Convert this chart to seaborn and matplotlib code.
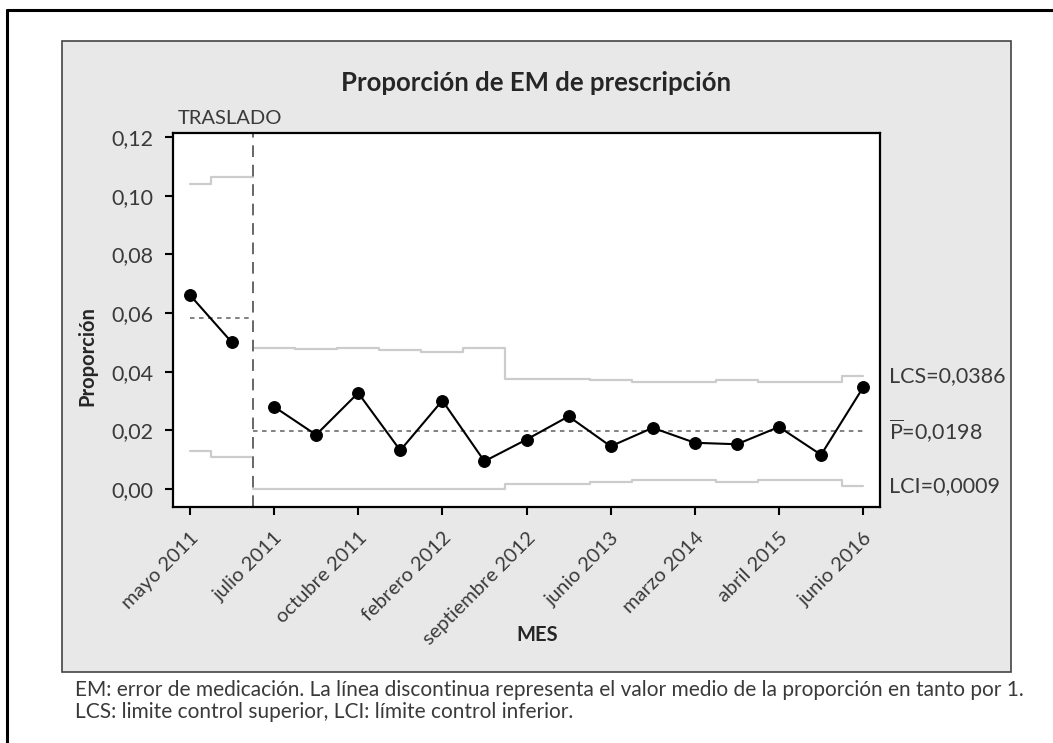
import matplotlib
matplotlib.use("Agg")
import matplotlib.pyplot as plt
from matplotlib.patches import Rectangle
from matplotlib.lines import Line2D
import numpy as np
import pandas as pd
import seaborn as sns

# proporción mensual de errores de medicación
proporcion = [0.0662, 0.0500, 0.0281, 0.0185, 0.0328, 0.0132, 0.0302, 0.0095, 0.0169,
              0.0248, 0.0146, 0.0209, 0.0158, 0.0153, 0.0212, 0.0117, 0.0347]
fase = [1, 1] + [2] * 15
lcs = [0.1039, 0.1063, 0.0480, 0.0476, 0.0480, 0.0473, 0.0467, 0.0480, 0.0377,
       0.0377, 0.0372, 0.0365, 0.0365, 0.0372, 0.0365, 0.0365, 0.0386]
lci = [0.0129, 0.0110, 0.0, 0.0, 0.0, 0.0, 0.0, 0.0, 0.0017,
       0.0017, 0.0024, 0.0031, 0.0031, 0.0024, 0.0031, 0.0031, 0.0009]
media = {1: 0.0584, 2: 0.0198}
etiquetas_mes = ["mayo 2011", "julio 2011", "octubre 2011", "febrero 2012", "septiembre 2012",
                 "junio 2013", "marzo 2014", "abril 2015", "junio 2016"]
textos_lim = ["LCS=0,0386", r"$\overline{\mathrm{P}}$=0,0198", "LCI=0,0009"]
valores_lim = [0.0386, 0.0198, 0.0009]

df = pd.DataFrame({"obs": np.arange(len(proporcion)), "p": proporcion, "fase": fase,
                   "lcs": lcs, "lci": lci})

sns.set_style("ticks")
plt.rcParams["font.family"] = ["Lato", "DejaVu Sans"]
plt.rcParams["mathtext.fontset"] = "custom"
plt.rcParams["mathtext.rm"] = "Lato"

gris_txt = "#3a3a3a"

fig = plt.figure(figsize=(10.53, 7.43), dpi=100)

# marco exterior y panel gris
fig.add_artist(Line2D([0.0067, 0.0067], [0, 0.9865], color="black", lw=2.2, transform=fig.transFigure))
fig.add_artist(Line2D([0.0067, 1.0], [0.9865, 0.9865], color="black", lw=2.2, transform=fig.transFigure))
fig.add_artist(Rectangle((0.0589, 0.0956), 0.9012, 0.8493, transform=fig.transFigure,
                         facecolor="#e8e8e8", edgecolor="#444444", lw=1.2, zorder=0))

ax = fig.add_axes([0.1643, 0.3176, 0.6714, 0.5034])
ax.set_facecolor("white")

# límites de control por fase (escalones)
for f, g in df.groupby("fase"):
    x = g["obs"].to_numpy()
    ini = x[0] if f == 1 else x[0] - 0.5
    fin = x[-1] + 0.5 if f == 1 else x[-1]
    bordes = np.concatenate([[ini], x[1:] - 0.5, [fin]])
    for col in ["lcs", "lci"]:
        v = g[col].to_numpy()
        ax.step(bordes, np.append(v, v[-1]), where="post", color="#cccccc", lw=1.6, zorder=1)
    ax.plot([ini, fin], [media[f], media[f]], color="#777777", lw=1.3,
            linestyle=(0, (2.5, 2.5)), zorder=2)

sns.lineplot(data=df, x="obs", y="p", units="fase", estimator=None, color="black",
             marker="o", markersize=8.5, markeredgecolor="black", lw=1.5, ax=ax, zorder=3)

ax.axvline(1.5, color="#666666", lw=1.4, linestyle=(0, (6, 4)), zorder=2)

ax.set_xlim(-0.4, 16.4)
ax.set_ylim(-0.0061, 0.1214)
ax.set_xticks(np.arange(0, 17, 2))
ax.set_xticklabels(etiquetas_mes, rotation=45, ha="right", va="top", rotation_mode="anchor",
                   fontsize=14.5, color=gris_txt)
ax.set_yticks(np.arange(0, 0.121, 0.02))
ax.set_yticklabels([f"{v:.2f}".replace(".", ",") for v in np.arange(0, 0.121, 0.02)],
                   fontsize=15.5, color=gris_txt)
ax.tick_params(axis="both", direction="out", length=6, width=1.5, color="black")
ax.tick_params(axis="x", pad=10)
ax.tick_params(axis="y", pad=8)
for s in ax.spines.values():
    s.set_linewidth(1.6)
    s.set_color("black")

ax.set_xlabel("")
ax.set_ylabel("")
fig.text(0.0826, 0.521, "Proporción", rotation=90, ha="center", va="center",
         fontsize=14.5, fontweight="bold")
fig.text(0.510, 0.145, "MES", ha="center", va="center", fontsize=14.5, fontweight="bold")
fig.text(0.509, 0.888, "Proporción de EM de prescripción", ha="center", va="center",
         fontsize=18.5, fontweight="bold")
ax.text(-0.29, 0.1236, "TRASLADO", ha="left", va="bottom", fontsize=14.5,
        color=gris_txt, clip_on=False)

for t, v in zip(textos_lim, valores_lim):
    ax.text(16.62, v, t, ha="left", va="center", fontsize=15.5, color=gris_txt,
            clip_on=False)

fig.text(0.0712, 0.0715, "EM: error de medicación. La línea discontinua representa el valor medio "
         "de la proporción en tanto por 1.", fontsize=15, color=gris_txt, va="center")
fig.text(0.0712, 0.0420, "LCS: limite control superior, LCI: límite control inferior.",
         fontsize=15, color=gris_txt, va="center")

fig.savefig("out.png", dpi=100)
